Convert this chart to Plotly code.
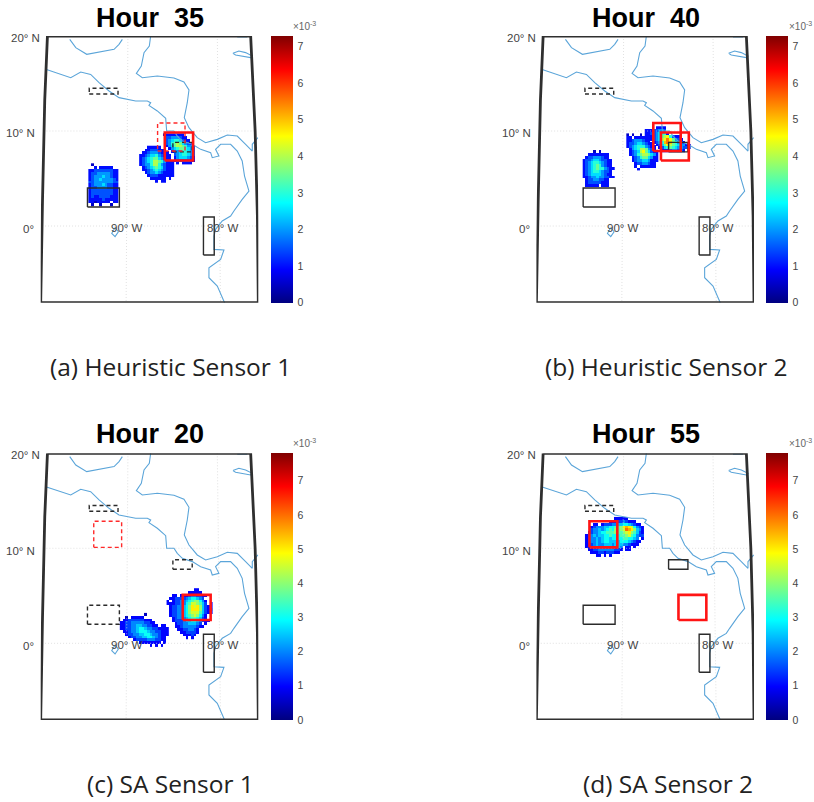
import plotly.graph_objects as go

W, H = 814, 802
CELL = 0.3          # degrees per density cell
LEVEL = {c: i * 0.5 for i, c in enumerate("0123456789ABCDEF")}  # x 1e-3 per character

COAST_PACIFIC_LON = [-99.04,-97.56,-96.26,-95.15,-94.04,-93.11,-92.0,-90.89,-89.04,-87.74,-87.37,-87.56,-86.63,-85.7,-85.59,-84.78,-84.41,-83.85,-82.74,-81.81,-80.7,-80.52,-79.78,-80.15,-79.59,-78.48,-77.74,-77.19,-76.93,-76.44,-77.19,-78.11,-78.48,-79.41,-80.15,-80.33,-80.33,-79.22,-79.59,-80.89,-80.89,-79.96,-79.59,-79.15]
COAST_PACIFIC_LAT = [16.49,16.04,15.61,16.21,15.96,15.09,14.21,13.51,13.16,13.16,12.98,12.7,12.11,11.33,10.0,10.0,9.47,8.95,8.6,8.07,7.72,7.19,7.37,8.07,8.6,8.6,7.89,6.84,5.26,3.68,2.81,1.58,1.05,0.53,-0.35,-1.05,-2.46,-2.53,-3.51,-4.39,-5.44,-6.32,-7.19,-8.07]
COAST_CARIB_LON = [-87.37,-87.44,-87.52,-88.11,-88.41,-88.96,-88.3,-86.63,-84.78,-83.67,-83.11,-83.3,-83.63,-83.11,-82.19,-81.26,-79.96,-78.85,-77.74,-76.81,-76.07,-76.07,-75.44]
COAST_CARIB_LAT = [20.0,19.65,18.95,18.25,16.84,16.07,15.61,15.79,15.58,15.16,14.32,12.98,11.4,10.35,9.3,8.77,9.12,9.58,9.47,8.6,7.89,8.6,9.3]
COAST_GULF_LON = [-96.37,-95.7,-94.48,-92.93,-91.44,-90.89,-90.52]
COAST_GULF_LAT = [19.65,18.77,18.07,18.32,18.6,19.12,19.65]
ISLAND1_LON = [-78.22,-77.56,-76.81,-76.07,-76.26,-77.19,-77.93,-78.22]
ISLAND1_LAT = [18.18,18.42,18.25,17.89,17.72,17.89,18.0,18.18]
ISLAND2_LON = [-77.74,-76.63]
ISLAND2_LAT = [19.9,19.9]
GALAPAGOS_LON = [-91.33,-91.7,-91.33,-90.96,-91.33]
GALAPAGOS_LAT = [-0.18,-0.77,-1.12,-0.6,-0.18]

FRAME_LON = [-98.85,-99.15,-99.4,-99.6,-75.4,-75.5,-75.75,-76.25,-98.85]
FRAME_LAT = [20.0,13.3,2.7,-8.07,-8.07,1.0,10.0,20.0,20.0]
MERIDIAN_90_LON = [-89.9,-90.1]
MERIDIAN_80_LON = [-79.96,-79.6]
MERIDIAN_LAT = [20.0,-8.07]
PARALLEL_10_LON = [-99.3,-75.7]
PARALLEL_0_LON = [-99.45,-75.5]

BOX_TOP = [-94.2, 13.9, -91.0, 14.5]
BOX_WEST = [-94.4, 2.0, -90.85, 4.0]
BOX_SOUTH = [-81.5, -3.05, -80.3, 0.95]
BOX_MID = [-84.9, 7.8, -82.75, 8.8]
RED_A_SOLID = [-85.8, 6.9, -82.65, 9.85]
RED_A_DASH = [-86.6, 7.9, -83.55, 10.85]
RED_B_1 = [-86.6, 7.9, -83.55, 10.85]
RED_B_2 = [-85.75, 6.9, -82.65, 9.85]
RED_C_DASH = [-93.7, 10.1, -90.6, 12.85]
RED_C_SOLID = [-83.8, 2.45, -80.7, 5.1]
RED_D_SOLID = [-83.8, 2.45, -80.7, 5.1]
RED_D_2 = [-93.7, 10.1, -90.6, 12.85]

A1_ORIGIN = [-94.3, 6.6]
A1 = [".1.........",
      "..2.22222..",
      "22333333322",
      "23344444322",
      "23444544322",
      "23445444432",
      "33444444433",
      "23444543322",
      "23344443322",
      "23333333322",
      "23333333322",
      "23223333222",
      "22222322222",
      "22122222.22",
      ".1..1...1.."]
A2_ORIGIN = [-88.65, 8.45]
A2 = ["...22222....",
      "..22333222..",
      ".2234443222.",
      "223455643222",
      "234567754322",
      "2345688764222",
      "2344688643222",
      ".234567653222",
      ".223456543222",
      "..23445432222",
      "...2333222222",
      "....222222.2.",
      "......2.22..."]
A3_ORIGIN = [-86.0, 9.75]
A3 = ["12222222....",
      ".33444322...",
      ".345665322..",
      ".3467875432.",
      ".24578876443",
      "..2456776543",
      "...234566543",
      "....34566543",
      "....24555432",
      "....23333322",
      ".....2.2222."]
B1_ORIGIN = [-94.45, 8.0]
B1 = ["....1.1....",
      "..22222222.",
      ".233444322.",
      "23345543322",
      "23456654322",
      "23456764322",
      "234567664322",
      "23456654332.",
      "23455554322.",
      "223445443322",
      ".233443322.",
      ".233333222.",
      ".22222.222."]
B2_ORIGIN = [-89.6, 9.75]
B2 = ["1.1..1......",
      "22.22222....",
      "223444322...",
      "2334554322..",
      "23456664322.",
      ".2456887432.",
      ".23458975322",
      ".23467887542",
      "..2346775422",
      "..2344554222",
      "...23344322.",
      "...2.222222.",
      "....2......."]
B3_ORIGIN = [-87.55, 10.5]
B3 = ["....2222.........",
      "22233443.........",
      "223345662........",
      "2223457896322....",
      ".2234589B97432...",
      "...2346ABA76432..",
      "....2357987654422",
      ".....235676544333",
      "......222344332.."]
C1_ORIGIN = [-90.8, 3.2]
C1 = [".........1........",
      "..1.22222.........",
      ".22333333222......",
      "2233444443322.....",
      "22334455443322.22.",
      "223344566544332222",
      ".22344566654433222",
      "..2334455665443222",
      "...23344556654322.",
      ".....233334443322.",
      ".......22222222.2.",
      "...........2.2.2.."]
C2_ORIGIN = [-85.6, 5.8]
C2 = ["..........22.....",
      "........22222....",
      "..22.2223443322..",
      ".2233334566543...",
      "2.2334456788642..",
      "222334467998753.2",
      ".23344568A9A85322",
      ".23344568AAA85321",
      ".2334456899975322",
      ".23344567898642..",
      "..2344456776532..",
      "..23334556654322.",
      "...2334455543.2..",
      "...22344444322...",
      "....22334432.....",
      ".....2233332.....",
      "......22232......",
      ".......2.2......."]
D1_ORIGIN = [-94.2, 13.3]
D1 = ["...........22222......",
      ".........2223343222...",
      "...22.233344556654322.",
      "..234445566778ABA96432",
      "..3445456768789CBA8542",
      ".234456677787789A87532",
      "2345455667666778976433",
      "23445456656666776654.2",
      "234454566555566654322.",
      "22345445554555443222..",
      "22344445444454.22.2...",
      ".2233444444332.22.....",
      "..22233233322.........",
      "....22.2.2............"]

TITLES = ["Hour\u00a0\u00a035", "Hour\u00a0\u00a040", "Hour\u00a0\u00a020", "Hour\u00a0\u00a055"]
CAPTIONS = ["(a) Heuristic Sensor 1", "(b) Heuristic Sensor 2", "(c) SA Sensor 1", "(d) SA Sensor 2"]
COLOR_MAX = [7.29, 7.29, 7.81, 7.81]
COLOR_TICKS = [0, 1, 2, 3, 4, 5, 6, 7]

BLACK, RED = "#2b2b2b", "#ff1414"
PANELS = [
    dict(blobs=[(A1_ORIGIN, A1), (A2_ORIGIN, A2), (A3_ORIGIN, A3)],
         boxes=[(BOX_TOP, BLACK, "dash"), (BOX_WEST, BLACK, "solid"), (BOX_SOUTH, BLACK, "solid"), (BOX_MID, BLACK, "dash"),
                (RED_A_DASH, RED, "dash"), (RED_A_SOLID, RED, "solid")]),
    dict(blobs=[(B1_ORIGIN, B1), (B2_ORIGIN, B2), (B3_ORIGIN, B3)],
         boxes=[(BOX_TOP, BLACK, "dash"), (BOX_WEST, BLACK, "solid"), (BOX_SOUTH, BLACK, "solid"), (BOX_MID, BLACK, "solid"),
                (RED_B_1, RED, "solid"), (RED_B_2, RED, "solid")]),
    dict(blobs=[(C1_ORIGIN, C1), (C2_ORIGIN, C2)],
         boxes=[(BOX_TOP, BLACK, "dash"), (BOX_WEST, BLACK, "dash"), (BOX_SOUTH, BLACK, "solid"), (BOX_MID, BLACK, "dash"),
                (RED_C_DASH, RED, "dash"), (RED_C_SOLID, RED, "solid")]),
    dict(blobs=[(D1_ORIGIN, D1)],
         boxes=[(BOX_TOP, BLACK, "dash"), (BOX_WEST, BLACK, "solid"), (BOX_SOUTH, BLACK, "solid"), (BOX_MID, BLACK, "solid"),
                (RED_D_SOLID, RED, "solid"), (RED_D_2, RED, "solid")]),
]

JET = [[0, "#00007f"], [0.125, "#0000ff"], [0.375, "#00ffff"], [0.625, "#ffff00"], [0.875, "#ff0000"], [1, "#7f0000"]]
OFFSET_X = [0, 495.7, 0, 495.7]
OFFSET_Y = [0, 0, 417.3, 417.3]
CAPTION_X = [170, 666, 170, 668]
CAPTION_Y = [366, 366, 783, 783]

LON_RANGE = [-99.6, -75.4]
LAT_RANGE = [-8.07, 20.0]
AX_L, AX_R, AX_T, AX_B = 40.7, 258.3, 36.0, 302.7
CB_L, CB_W = 270.7, 21.6

fig = go.Figure()
ann = []


def text(x, y, s, size, color="#444444", family="Liberation Sans", xanchor="center", bold=False):
    ann.append(dict(x=x / W, y=1 - y / H, xref="paper", yref="paper", text=f"<b>{s}</b>" if bold else s,
                    showarrow=False, xanchor=xanchor, yanchor="middle",
                    font=dict(size=size, color=color, family=family), borderpad=0, borderwidth=0))


for k, panel in enumerate(PANELS):
    n = "" if k == 0 else str(k + 1)
    ax = dict(xaxis=f"x{n}", yaxis=f"y{n}")
    dx, dy = OFFSET_X[k], OFFSET_Y[k]

    for lons, lats in [(PARALLEL_10_LON, [10, 10]), (PARALLEL_0_LON, [0, 0]),
                       (MERIDIAN_90_LON, MERIDIAN_LAT), (MERIDIAN_80_LON, MERIDIAN_LAT)]:
        fig.add_trace(go.Scatter(x=lons, y=lats, mode="lines", hoverinfo="skip", showlegend=False,
                                 line=dict(color="#d4d4d4", width=0.7, dash="1px 2px"), **ax))
    for lons, lats in [(COAST_PACIFIC_LON, COAST_PACIFIC_LAT), (COAST_CARIB_LON, COAST_CARIB_LAT),
                       (COAST_GULF_LON, COAST_GULF_LAT), (ISLAND1_LON, ISLAND1_LAT),
                       (ISLAND2_LON, ISLAND2_LAT), (GALAPAGOS_LON, GALAPAGOS_LAT)]:
        fig.add_trace(go.Scatter(x=lons, y=lats, mode="lines", hoverinfo="skip", showlegend=False,
                                 line=dict(color="#5ba5d9", width=1.1), **ax))

    for origin, rows in panel["blobs"]:
        ncol = max(len(r) for r in rows)
        z = [[LEVEL[c] if c != "." else None for c in r.ljust(ncol, ".")] for r in rows]
        fig.add_trace(go.Heatmap(z=z,
                                 x=[origin[0] + CELL * (i + 0.5) for i in range(ncol)],
                                 y=[origin[1] - CELL * (j + 0.5) for j in range(len(rows))],
                                 coloraxis=f"coloraxis{n}", hoverongaps=False, **ax))

    for box, color, dash in panel["boxes"]:
        width = 2.6 if (color == RED and dash == "solid") else 1.4
        line_color = "#ff2a2a" if (color == RED and dash == "dash") else color
        fig.add_trace(go.Scatter(x=[box[0], box[2], box[2], box[0], box[0]],
                                 y=[box[1], box[1], box[3], box[3], box[1]],
                                 mode="lines", hoverinfo="skip", showlegend=False,
                                 line=dict(color=line_color, width=width, dash="4px 3px" if dash == "dash" else "solid"), **ax))

    fig.add_trace(go.Scatter(x=FRAME_LON, y=FRAME_LAT, mode="lines", hoverinfo="skip", showlegend=False, cliponaxis=False,
                             line=dict(color="#2f2f2f", width=2.8), **ax))

    fig.update_layout(**{
        f"xaxis{n}": dict(domain=[(AX_L + dx) / W, (AX_R + dx) / W], range=LON_RANGE, visible=False, anchor=f"y{n}", fixedrange=True),
        f"yaxis{n}": dict(domain=[1 - (AX_B + dy) / H, 1 - (AX_T + dy) / H], range=LAT_RANGE, visible=False, anchor=f"x{n}", fixedrange=True),
        f"coloraxis{n}": dict(cmin=0, cmax=COLOR_MAX[k], colorscale=JET, colorbar=dict(
            x=(CB_L + dx) / W, xanchor="left", y=1 - (AX_B + dy) / H, yanchor="bottom",
            len=AX_B - AX_T, lenmode="pixels", thickness=CB_W, thicknessmode="pixels",
            xpad=0, ypad=0, outlinewidth=0, tickmode="array", tickvals=COLOR_TICKS, ticktext=[str(t) for t in COLOR_TICKS],
            ticks="outside", ticklen=3, tickcolor="rgba(0,0,0,0)",
            tickfont=dict(size=10.5, color="#444444", family="Liberation Sans"))),
    })

    text(150 + dx, 18 + dy - (1 if k > 1 else 0), TITLES[k], 27, color="#000000", bold=True)
    text(CAPTION_X[k], CAPTION_Y[k], CAPTIONS[k], 24.5, color="#222222", family="Open Sans")
    text(40 + dx, 38 + dy, "20°\u00a0N", 11.5, xanchor="right")
    text(35 + dx, 133.3 + dy, "10°\u00a0N", 11.5, xanchor="right")
    text(34.3 + dx, 229 + dy, "0°", 11.5, xanchor="right")
    text(127 + dx, 228 + dy, "90°\u00a0W", 11.5)
    text(222.7 + dx, 228 + dy, "80°\u00a0W", 11.5)
    text(293 + dx, 26 + dy, "×10<sup>-3</sup>", 10, color="#666666", xanchor="left")

fig.update_layout(width=W, height=H, margin=dict(l=0, r=0, t=0, b=0), paper_bgcolor="white", plot_bgcolor="white",
                  annotations=ann, showlegend=False)
fig.write_html("out.html", config=dict(displayModeBar=False),
               post_script="document.body.style.margin='0';document.body.style.overflow='hidden';")
